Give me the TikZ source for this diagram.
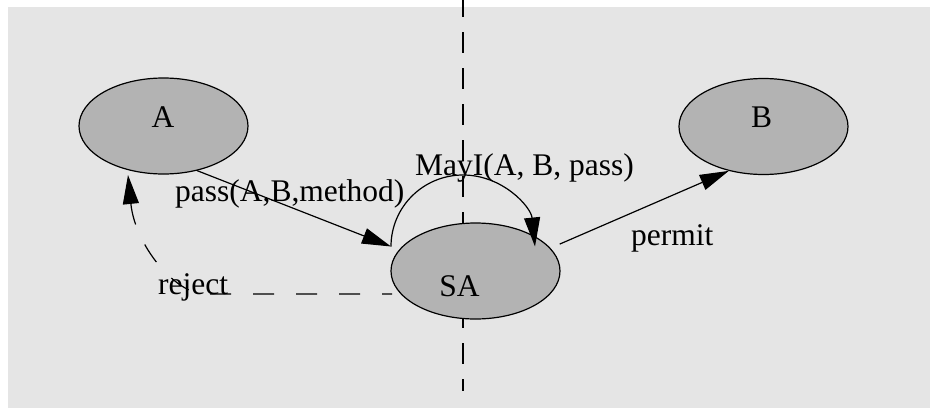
\documentclass[tikz,border=0pt]{standalone}
\usepackage{fontspec}
\setmainfont{Liberation Serif}
\usetikzlibrary{shapes.geometric,arrows.meta}

\definecolor{bggray}{gray}{0.898}
\definecolor{nodegray}{gray}{0.702}

\begin{document}
\begin{tikzpicture}[x=1pt,y=-1pt,
  state/.style={ellipse, draw=black, fill=nodegray, line width=1.2pt,
    minimum width=169pt, minimum height=96pt, inner sep=0pt},
  lbl/.style={font=\fontsize{31.5}{36}\selectfont, inner sep=0pt},
  link/.style={line width=1.2pt, -{Triangle[length=29pt,width=16pt]}},
  divider/.style={line width=1.2pt, dash pattern=on 21pt off 15pt},
  rejectline/.style={line width=1.2pt, dash pattern=on 21pt off 22pt, dash phase=11pt,
    -{Triangle[length=29pt,width=16pt]}}]

\useasboundingbox (0,0) rectangle (930,408);
\fill[bggray] (8,7) rectangle (930,408);

% vertical separator, above and below the SA node
\draw[divider, dash phase=4pt] (463,0) -- (463,250);
\draw[divider, dash phase=9pt] (463,280) -- (463,391);

% parties
\node[state] (A)  at (163.5,126)   {};
\node[state] (SA) at (475.5,271)   {};
\node[state] (B)  at (763.5,126.5) {};

\node[lbl, anchor=base] (tA)  at (163,127)   {A};
\node[lbl, anchor=base] (tB)  at (761.5,127) {B};
\node[lbl, anchor=base] (tSA) at (459.5,296) {SA};

% connector end points
\coordinate (mayin)  at (391,246.5);
\coordinate (maytop) at (463,175);
\coordinate (mayout) at (535,246.5);
\coordinate (rejstart) at (392,294);
\coordinate (rejbend)  at (205,294);
\coordinate (rejend)   at (128,175);

% messages
\draw[link] (A.-53) -- (mayin);
\draw[link] (mayin) .. controls (391,207) and (423.2,175) .. (maytop)
                    .. controls (502.8,175) and (531,207) .. (mayout);
\draw[link, shorten <=10pt] (SA.17) -- (B.-128);
\draw[rejectline] (rejstart) -- (rejbend) .. controls (175,294) and (135,245) .. (rejend);

% message labels
\node[lbl, anchor=base west] (lpass)   at (175,201) {pass(A,B,method)};
\node[lbl, anchor=base west] (lmay)    at (415,175) {MayI(A, B, pass)};
\node[lbl, anchor=base west] (lpermit) at (631,245) {permit};
\node[lbl, anchor=base west] (lreject) at (158,294) {reject};
\end{tikzpicture}
\end{document}
